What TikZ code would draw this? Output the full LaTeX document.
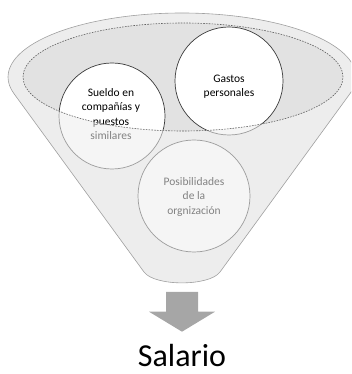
\documentclass[tikz,border=0pt]{standalone}
\usepackage{fontspec}
\setmainfont{Carlito}
\definecolor{funnelfill}{HTML}{EDEDED}
\definecolor{funnelline}{HTML}{A0A0A0}
\definecolor{mouthfill}{HTML}{E2E2E2}
\definecolor{ringline}{HTML}{3A3A3A}
\definecolor{arrowfill}{HTML}{A6A6A6}
\tikzset{
  bubble/.style={circle, draw=ringline, fill=white, line width=0.7pt, inner sep=0pt},
  bubbletext/.style={align=center, inner sep=0pt, font=\fontsize{11.5}{14.5}\selectfont, text=black},
  mouthline/.style={draw=ringline!80, line width=0.6pt, dash pattern=on 1.6pt off 1.2pt},
}
\begin{document}
\begin{tikzpicture}[x=1pt,y=1pt]
\useasboundingbox (0,0) rectangle (351,374);
\clip (0,0) rectangle (351,374);
% funnel body
\fill[funnelfill] (349.8,280.1) arc[start angle=-15.3,end angle=195.3,x radius=174,y radius=64]
  -- (144,102) .. controls (154.6,87.5) and (209.4,87.5) .. (220,102) -- cycle;
% mouth
\fill[mouthfill] (183,297) ellipse[x radius=160,y radius=54];
% circles
\node[bubble, minimum size=106pt] (c1) at (112,258) {};
\node[bubble, minimum size=108pt] (c2) at (229,293) {};
\node[bubble, minimum size=112pt] (c3) at (194,178) {};
\node[bubbletext] (t1) at (111,260) {Sueldo en\\compañías y\\puestos\\similares};
\node[bubbletext] (t2) at (229,287.5) {Gastos\\personales};
\node[bubbletext] (t3) at (194,177.3) {Posibilidades\\de la\\orgnización};
% front part of the funnel
\begin{scope}
\clip (349.8,280.1) arc[start angle=-15.3,end angle=195.3,x radius=174,y radius=64]
  -- (144,102) .. controls (154.6,87.5) and (209.4,87.5) .. (220,102) -- cycle;
\fill[funnelfill, opacity=0.55] (23,297) arc[start angle=180,end angle=360,x radius=160,y radius=54]
  -- (360,297) -- (360,0) -- (0,0) -- (0,297) -- cycle;
\end{scope}
\draw[funnelline, line width=0.6pt] (349.8,280.1) arc[start angle=-15.3,end angle=195.3,x radius=174,y radius=64]
  -- (144,102) .. controls (154.6,87.5) and (209.4,87.5) .. (220,102) -- cycle;
\draw[mouthline] (183,297) ellipse[x radius=160,y radius=54];
% arrow
\fill[arrowfill] (166,82) -- (198,82) -- (198,62.3) -- (215,62.3) -- (182,42.3) -- (149,62.3) -- (166,62.3) -- cycle;
\node[anchor=base, inner sep=0pt, font=\fontsize{32}{38}\selectfont] (sal) at (182,8) {Salario};
\end{tikzpicture}
\end{document}
